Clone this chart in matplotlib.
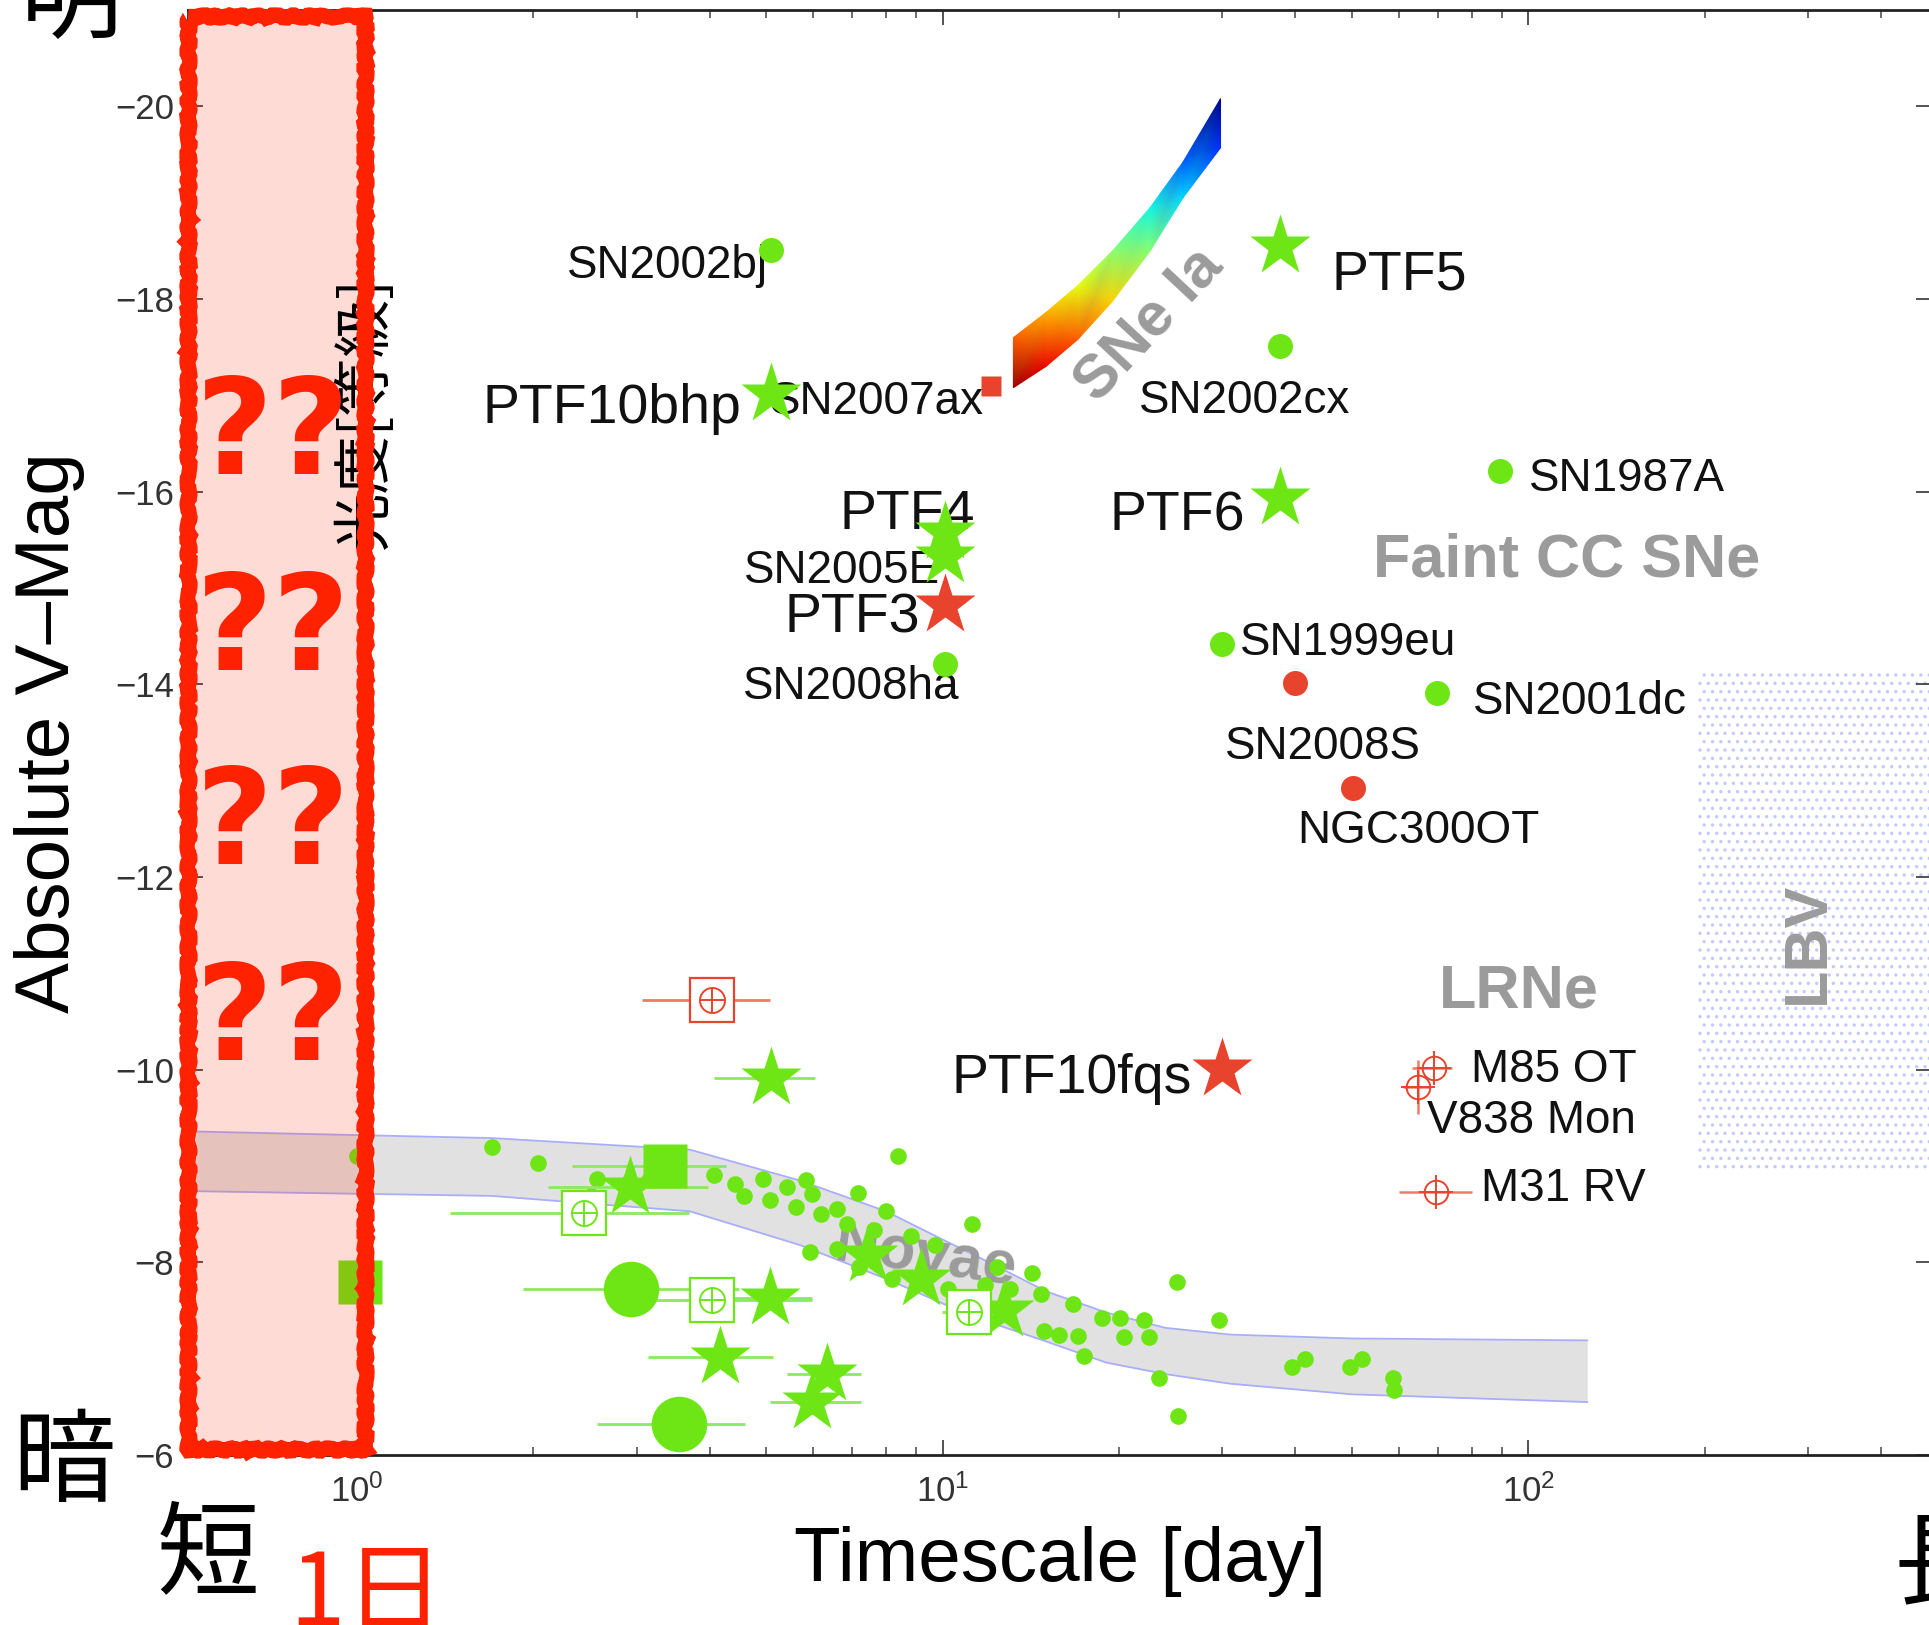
import matplotlib
matplotlib.use("Agg")
import matplotlib.pyplot as plt
from matplotlib.patches import Rectangle
from matplotlib.ticker import NullLocator

plt.rcParams['font.family'] = ['Liberation Sans', 'DejaVu Sans']
plt.rcParams['hatch.linewidth'] = 1.2

GREEN = '#6ee616'
GREEN_ERR = '#8ee85e'
RED = '#e8432d'
RED_ERR = '#f07a66'
GREY = '#9b9b9b'
BOX_RED = '#ff2200'
JP = ['Noto Sans CJK JP', 'DejaVu Sans']

# ---- labelled transients: timescale [day], peak absolute V mag ----
obj_names = ["SN2002bj", "PTF10bhp", "SN2007ax", "PTF5", "SN2002cx", "SN1987A",
             "PTF6", "PTF4", "SN2005E", "PTF3", "SN2008ha", "SN1999eu",
             "SN2008S", "SN2001dc", "NGC300OT", "PTF10fqs"]
obj_days = [5.08, 5.08, 12.1, 37.7, 37.7, 89.5, 37.7, 10.07, 10.07, 10.07,
            10.07, 30.0, 39.9, 69.9, 50.1, 30.0]
obj_mags = [-18.51, -17.01, -17.10, -18.55, -17.51, -16.21, -15.93, -15.58,
            -15.33, -14.82, -14.21, -14.42, -14.01, -13.91, -12.92, -10.01]
obj_class = ["g", "g", "r", "g", "g", "g", "g", "g", "g", "r", "g", "g",
             "r", "g", "r", "r"]
obj_marker = ["o", "*", "s", "*", "o", "o", "*", "*", "*", "*", "o", "o",
              "o", "o", "o", "*"]

# luminous red novae (crosshair symbols with error bars)
lrn_names = ["M85 OT", "V838 Mon", "M31 RV"]
lrn_days = [68.9, 64.7, 69.6]
lrn_mags = [-10.02, -9.82, -8.73]
lrn_lo = [63.2, 61.0, 60.2]
lrn_hi = [73.9, 68.0, 80.0]
lrn_merr = [0.0, 0.28, 0.0]

# SNe Ia locus
ia_days = [13.2, 15.0, 17.0, 19.5, 22.6, 25.7, 29.8]
ia_bright = [-17.60, -17.86, -18.14, -18.50, -18.95, -19.42, -20.08]
ia_faint = [-17.08, -17.30, -17.58, -17.98, -18.50, -19.05, -19.57]

# nova MMRD band
band_days = [0.515, 1.7, 3.7, 5.7, 8.0, 10.2, 12.0, 15.0, 19.0, 24.0, 31.0, 50.0, 126.0]
band_bright = [-9.36, -9.29, -9.17, -8.85, -8.53, -8.21, -8.00, -7.70, -7.48,
               -7.32, -7.25, -7.21, -7.19]
band_faint = [-8.74, -8.69, -8.53, -8.18, -7.83, -7.55, -7.38, -7.18, -6.96,
              -6.84, -6.74, -6.63, -6.55]

# individual novae (small dots)
nova_days = [1.70, 2.04, 2.57, 2.51, 2.90, 3.15, 4.07, 4.42, 4.57, 4.93, 5.06,
             5.43, 5.62, 5.85, 5.98, 6.19, 6.59, 6.86, 7.16, 7.63, 8.0, 8.40,
             8.82, 9.71, 11.2, 11.8, 12.4, 13.0, 14.2, 14.7, 14.9, 15.8, 16.7,
             17.0, 17.4, 18.7, 20.1, 20.4, 22.1, 22.5, 23.4, 25.1, 25.2, 29.6,
             39.5, 41.5, 49.6, 52.0, 58.7, 59.0, 5.93, 6.59, 7.20, 8.20, 10.2, 1.0]
nova_mags = [-9.20, -9.03, -8.87, -8.69, -8.82, -8.85, -8.91, -8.81, -8.69,
             -8.87, -8.65, -8.78, -8.57, -8.85, -8.71, -8.50, -8.55, -8.40,
             -8.72, -8.34, -8.53, -9.10, -8.27, -8.18, -8.40, -7.76, -7.95,
             -7.72, -7.89, -7.67, -7.29, -7.25, -7.57, -7.24, -7.03, -7.42,
             -7.42, -7.23, -7.40, -7.23, -6.80, -7.80, -6.40, -7.40, -6.91,
             -7.00, -6.91, -7.00, -6.80, -6.68, -8.11, -8.14, -7.95, -7.83,
             -7.72, -9.10]

# other fast novae: stars, big dots, squares (with day ranges)
nstar_days = [5.08, 2.92, 5.07, 4.17, 6.35, 5.99, 9.17, 7.44, 12.7]
nstar_mags = [-9.91, -8.78, -7.63, -7.02, -6.84, -6.55, -7.83, -8.08, -7.51]
nstar_lo = [4.07, 2.12, 3.69, 3.14, 5.43, 5.06, 9.17, 7.44, 12.7]
nstar_hi = [6.05, 3.97, 5.99, 5.13, 7.26, 7.26, 9.17, 7.44, 12.7]

ndot_days = [2.93, 3.54]
ndot_mags = [-7.72, -6.32]
ndot_lo = [1.92, 2.57]
ndot_hi = [4.48, 4.59]

nsq_days = [3.35, 1.01]
nsq_mags = [-9.00, -7.80]
nsq_lo = [2.33, 1.01]
nsq_hi = [4.27, 1.01]

nopen_days = [2.44, 4.03, 11.1]
nopen_mags = [-8.51, -7.61, -7.48]
nopen_lo = [1.44, 3.19, 9.96]
nopen_hi = [3.69, 5.99, 12.7]

ropen_days = [4.03]
ropen_mags = [-10.72]
ropen_lo = [3.07]
ropen_hi = [5.06]

# class labels
grp_names = ["SNe Ia", "Faint CC SNe", "LRNe", "LBV", "Novae"]
grp_days = [22.6, 116, 96.2, 301, 9.35]
grp_mags = [-17.72, -15.28, -10.81, -11.32, -8.06]

# LBV zone
lbv_days = [195, 600]
lbv_mags = [-14.14, -8.97]

# label placement (offset in points, alignment)
label_pos = {
    "SN2002bj": (-2, -8, "right"), "PTF10bhp": (-21, -6, "right"),
    "SN2007ax": (-5, -8, "right"), "PTF5": (37, -17, "left"),
    "SN2002cx": (-26, -36, "center"), "SN1987A": (21, -2, "left"),
    "PTF6": (-25, -9, "right"), "PTF4": (-27, 17, "center"),
    "SN2005E": (-3, -7, "right"), "PTF3": (-18, -5, "right"),
    "SN2008ha": (-67, -13, "center"), "SN1999eu": (13, 4, "left"),
    "SN2008S": (20, -42, "center"), "SN2001dc": (26, -3, "left"),
    "NGC300OT": (47, -27, "center"), "PTF10fqs": (-22, -3, "right"),
    "M85 OT": (27, 2, "left"), "V838 Mon": (7, -21, "left"),
    "M31 RV": (32, 6, "left"),
}
grp_rot = {"SNe Ia": 47, "LBV": 90, "Novae": -8}
marker_size = {"*": 46, "o": 18, "s": 14}


def xerr(days, lo, hi):
    return [[d - l for d, l in zip(days, lo)], [h - d for d, h in zip(days, hi)]]


def main():
    fig = plt.figure(figsize=(19.29, 16.25), dpi=100)
    ax = fig.add_axes([0.0975, 0.1046, 0.9036, 0.8892])
    ax.set_xscale('log')
    ax.set_xlim(0.5145, 487)
    ax.set_ylim(-6, -21)

    # LBV dotted zone
    ax.add_patch(Rectangle((lbv_days[0], lbv_mags[0]), lbv_days[1] - lbv_days[0],
                           lbv_mags[1] - lbv_mags[0], facecolor='none',
                           edgecolor='#c3c8ff', hatch='..', lw=0, zorder=1))

    # nova band
    ax.fill_between(band_days, band_bright, band_faint, color='#e1e1e1', lw=0, zorder=1.2)
    ax.plot(band_days, band_bright, color='#a9aefc', lw=1.3, zorder=1.3)
    ax.plot(band_days, band_faint, color='#a9aefc', lw=1.3, zorder=1.3)

    # SNe Ia locus
    ax.pcolormesh([ia_days, ia_days], [ia_faint, ia_bright], [ia_faint, ia_bright],
                  cmap='jet', vmin=-20.1, vmax=-17.0, shading='gouraud', zorder=2)

    # class names
    for name, d, m in zip(grp_names, grp_days, grp_mags):
        ax.text(d, m, name, color=GREY, fontsize=44, fontweight='bold',
                rotation=grp_rot.get(name, 0), ha='center', va='center', zorder=2.5)

    # novae
    ax.plot(nova_days, nova_mags, 'o', color=GREEN, ms=12, mec='none', zorder=3)
    ax.errorbar(nstar_days, nstar_mags, xerr=xerr(nstar_days, nstar_lo, nstar_hi),
                fmt='*', color=GREEN, ms=46, mec='none', ecolor=GREEN_ERR,
                elinewidth=2, capsize=0, zorder=3)
    ax.errorbar(ndot_days, ndot_mags, xerr=xerr(ndot_days, ndot_lo, ndot_hi),
                fmt='o', color=GREEN, ms=40, mec='none', ecolor=GREEN_ERR,
                elinewidth=2, capsize=0, zorder=3)
    ax.errorbar(nsq_days, nsq_mags, xerr=xerr(nsq_days, nsq_lo, nsq_hi),
                fmt='s', color=GREEN, ms=32, mec='none', ecolor=GREEN_ERR,
                elinewidth=2, capsize=0, zorder=3)
    for days, mags, lo, hi, col, ecol in [
            (nopen_days, nopen_mags, nopen_lo, nopen_hi, GREEN, GREEN_ERR),
            (ropen_days, ropen_mags, ropen_lo, ropen_hi, RED, RED_ERR)]:
        ax.errorbar(days, mags, xerr=xerr(days, lo, hi), fmt='none',
                    ecolor=ecol, elinewidth=2, capsize=0, zorder=3)
        ax.plot(days, mags, 's', ms=31, mfc='white', mec=col, mew=1.6, zorder=3.1)
        ax.plot(days, mags, 'o', ms=18, mfc='none', mec=col, mew=1.4, zorder=3.2)
        ax.plot(days, mags, '+', ms=18, mec=col, mew=1.4, zorder=3.2)

    # LRNe
    ax.errorbar(lrn_days, lrn_mags, xerr=xerr(lrn_days, lrn_lo, lrn_hi), yerr=lrn_merr,
                fmt='none', ecolor=RED_ERR, elinewidth=1.8, capsize=0, zorder=3)
    ax.plot(lrn_days, lrn_mags, 'o', ms=17, mfc='none', mec=RED, mew=1.4, zorder=3.2)
    ax.plot(lrn_days, lrn_mags, '+', ms=24, mec=RED, mew=1.4, zorder=3.2)
    for name, d, m in zip(lrn_names, lrn_days, lrn_mags):
        dx, dy, ha = label_pos[name]
        ax.annotate(name, (d, m), xytext=(dx, dy), textcoords='offset points',
                    ha=ha, va='center_baseline', fontsize=33, color='#111111', zorder=4)

    # labelled transients
    for name, d, m, c, mk in zip(obj_names, obj_days, obj_mags, obj_class, obj_marker):
        col = GREEN if c == "g" else RED
        ax.plot(d, m, mk, color=col, ms=marker_size[mk], mec='none', zorder=4.5)
        dx, dy, ha = label_pos[name]
        size = 40 if name.startswith("PTF") else 33
        ax.annotate(name, (d, m), xytext=(dx, dy), textcoords='offset points',
                    ha=ha, va='center_baseline', fontsize=size, color='#111111', zorder=4)

    # axes styling
    ax.set_yticks(range(-20, -5, 2))
    ax.yaxis.set_minor_locator(NullLocator())
    ax.tick_params(which='both', direction='in', top=True, right=True,
                   color='#444444', labelcolor='#333333')
    ax.tick_params(which='major', length=11, width=1.3, labelsize=25)
    ax.tick_params(which='minor', length=6, width=1.1)
    ax.tick_params(axis='y', pad=10)
    ax.tick_params(axis='x', pad=14)
    for s in ax.spines.values():
        s.set_linewidth(2)
        s.set_color('#222222')

    ax.set_xlabel("Timescale [day]", fontsize=55, va='center')
    ax.xaxis.set_label_coords(0.5, -0.074)
    ax.set_ylabel("Absolute V\u2013Mag", fontsize=55, va='center')
    ax.yaxis.set_label_coords(-0.0797, 0.5)

    # overlay: highlighted sub-day region
    x0 = ax.get_xlim()[0]
    ax.add_patch(Rectangle((x0, -20.94), 1.03 - x0, 14.88, facecolor=BOX_RED,
                           alpha=0.16, lw=0, zorder=6, clip_on=False))
    ax.text(1.034, -16.82, "光度[等級]", family=JP, fontsize=42, rotation=90,
            ha='center', va='center', color='black', zorder=7)
    border = Rectangle((x0, -20.94), 1.03 - x0, 14.88, facecolor='none',
                       edgecolor=BOX_RED, lw=11, zorder=8, clip_on=False)
    border.set_sketch_params(scale=1.5, length=25, randomness=6)
    ax.add_patch(border)
    for m in [-16.57, -14.53, -12.52, -10.48]:
        ax.text(0.72, m, "??", color=BOX_RED, fontsize=96, fontweight='bold',
                family=['DejaVu Sans'], ha='center', va='center', zorder=9)

    # Japanese annotations around the frame
    fig.text(0.0368, 1.0, "明", family=JP, fontsize=74, ha='center', va='center')
    fig.text(0.0332, 0.099, "暗", family=JP, fontsize=74, ha='center', va='center')
    fig.text(0.108, 0.042, "短", family=JP, fontsize=74, ha='center', va='center')
    fig.text(1.008, 0.036, "長", family=JP, fontsize=74, ha='center', va='center')
    fig.text(0.190, 0.018, "1日", family=JP, fontsize=72, ha='center', va='center',
             color=BOX_RED)

    fig.savefig('out.png', dpi=100, facecolor='white')


if __name__ == "__main__":
    main()
